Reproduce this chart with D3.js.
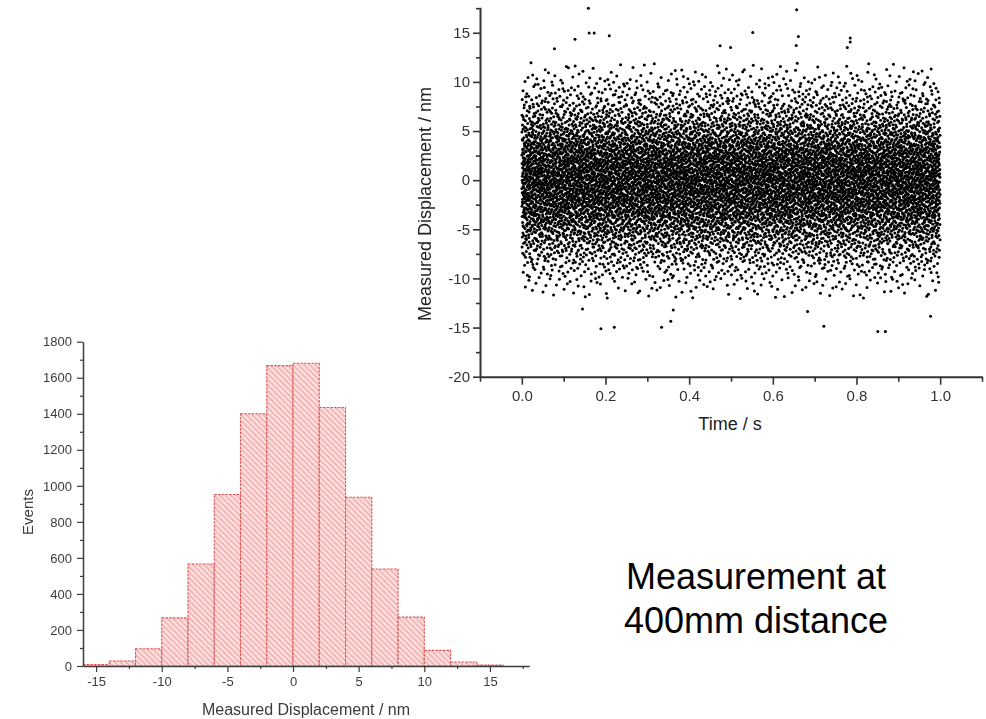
<!DOCTYPE html>
<html><head><meta charset="utf-8">
<script src="https://cdn.jsdelivr.net/npm/d3@7"></script>
<style>
body{margin:0;background:#fff}
svg{display:block}
text{font-family:"Liberation Sans",Arial,Helvetica,sans-serif}
</style>
</head><body>
<svg id="chart" width="986" height="719"></svg>
<script>
// ---------------- DATA ----------------
// Histogram of measured displacement (nm): bins of width 2 nm starting at these edges
const histBinStarts = [-16,-14,-12,-10,-8,-6,-4,-2,0,2,4,6,8,10,12,14];
const histBinWidth = 2;
const histCounts   = [8,28,96,267,566,952,1400,1667,1680,1435,937,538,271,87,22,5];
const histXTicks = [-15,-10,-5,0,5,10,15];
const histYTicks = [0,200,400,600,800,1000,1200,1400,1600,1800];

// Time trace: isolated extreme points [time s, displacement nm]
const outlierTimes = [0.159,0.161,0.173,0.209,0.127,0.078,0.657,0.552,0.661,0.656,0.785,0.785,0.778,0.474,0.499,
                      0.189,0.221,0.334,0.356,0.145,0.362,0.851,0.869,0.722,0.977,0.683];
const outlierValues= [17.5,14.97,14.97,14.7,14.35,13.37,17.35,15.03,14.62,13.7,14.46,14.05,13.5,13.67,13.5,
                      -15.13,-14.97,-14.97,-14.35,-13.1,-13.2,-15.4,-15.4,-14.87,-13.85,-13.37];
// The dense cloud of the trace has the distribution of the histogram above (same measurements, |y|<12 nm)
const scatterXTicks = [0.0,0.2,0.4,0.6,0.8,1.0];
const scatterYTicks = [-20,-15,-10,-5,0,5,10,15];
const annotationLines = ["Measurement at","400mm distance"];

// ---------------- CHART ----------------
const svg = d3.select("#chart");
const defs = svg.append("defs");
const pat = defs.append("pattern").attr("id","hatch").attr("patternUnits","userSpaceOnUse")
  .attr("width",4).attr("height",4).attr("patternTransform","rotate(-45)");
pat.append("rect").attr("width",4).attr("height",4).attr("fill","#fde2e2");
pat.append("line").attr("x1",1).attr("x2",1).attr("y1",0).attr("y2",4)
  .attr("stroke","#ee9a9a").attr("stroke-width",1.2);
defs.append("filter").attr("id","soft").append("feGaussianBlur").attr("stdDeviation",0.45);

const intFmt = d => String(d);

// ---- Histogram ----
const hx = d3.scaleLinear().domain([-16,18]).range([83,529.3]);
const hy = d3.scaleLinear().domain([0,1800]).range([666,341.7]);
const hg = svg.append("g").attr("filter","url(#soft)");

hg.selectAll("rect.bar").data(histCounts).join("rect").attr("class","bar")
  .attr("x",(d,i)=>hx(histBinStarts[i]))
  .attr("width",(d,i)=>hx(histBinStarts[i]+histBinWidth)-hx(histBinStarts[i]))
  .attr("y",d=>hy(d)).attr("height",d=>hy(0)-hy(d))
  .attr("fill","url(#hatch)").attr("stroke","#de5252").attr("stroke-width",1.1)
  .attr("stroke-dasharray","2.5,1.2");

const hMinorX = d3.range(-15,18.1,2.5).filter(v=>!histXTicks.includes(v));
const hMinorY = d3.range(100,1800,200);
function styleAxis(g,col,w){
  g.select(".domain").attr("stroke",col).attr("stroke-width",w);
  g.selectAll(".tick line").attr("stroke",col).attr("stroke-width",w*0.8);
  g.selectAll("text").attr("fill",col);
}
const hxAxis = hg.append("g").attr("transform",`translate(0,${hy(0)})`)
  .call(d3.axisBottom(hx).tickValues(histXTicks).tickFormat(intFmt).tickSize(6).tickSizeOuter(0).tickPadding(5));
hxAxis.selectAll("text").style("font-size","13px");
styleAxis(hxAxis,"#3c3c3c",1.5);
const hxMinor = hg.append("g").attr("transform",`translate(0,${hy(0)})`)
  .call(d3.axisBottom(hx).tickValues(hMinorX).tickSize(3).tickFormat(""));
hxMinor.select(".domain").remove();
hxMinor.selectAll(".tick line").attr("stroke","#3c3c3c").attr("stroke-width",1.2);

const hyAxis = hg.append("g").attr("transform",`translate(${hx(-16)},0)`)
  .call(d3.axisLeft(hy).tickValues(histYTicks).tickFormat(intFmt).tickSize(6).tickSizeOuter(0).tickPadding(5));
hyAxis.selectAll("text").style("font-size","13px");
styleAxis(hyAxis,"#3c3c3c",1.5);
const hyMinor = hg.append("g").attr("transform",`translate(${hx(-16)},0)`)
  .call(d3.axisLeft(hy).tickValues(hMinorY).tickSize(3).tickFormat(""));
hyMinor.select(".domain").remove();
hyMinor.selectAll(".tick line").attr("stroke","#3c3c3c").attr("stroke-width",1.2);

hg.append("text").attr("transform","translate(33,512) rotate(-90)").attr("text-anchor","middle")
  .style("font-size","15px").attr("fill","#3a3a3a").text("Events");
hg.append("text").attr("x",306).attr("y",715).attr("text-anchor","middle")
  .style("font-size","16px").attr("fill","#3a3a3a").text("Measured Displacement / nm");

// ---- Time trace scatter ----
const sx = d3.scaleLinear().domain([-0.1,1.1]).range([480,982]);
const sy = d3.scaleLinear().domain([-20,17.6]).range([376.7,7.2]);

// cloud points: displacement distribution follows the histogram (linearly interpolated between
// bin centres) within |y|<12 nm, spread evenly over the 1 s record (deterministic Halton placement)
const centres = histBinStarts.map(s=>s+histBinWidth/2);
const dens = d3.scaleLinear().domain(centres).range(histCounts.map(c=>c/histBinWidth)).clamp(true);
const grid = d3.range(-12,12.0001,0.05);
const cdf = d3.cumsum(grid.map(g=>dens(g)));
const cdfMax = cdf[cdf.length-1];
const coreTotal = d3.sum(histCounts.filter((c,i)=>histBinStarts[i]>=-12 && histBinStarts[i]<12));
function halton(i,b){let f=1,r=0;while(i>0){f/=b;r+=f*(i%b);i=Math.floor(i/b);}return r;}
const cloud = d3.range(coreTotal).map(j=>{
  const u = halton(j+1,2), v = halton(j+1,3)*cdfMax;
  const k = Math.min(d3.bisectLeft(cdf,v), grid.length-1);
  const prev = k>0?cdf[k-1]:0;
  const frac = (v-prev)/Math.max(cdf[k]-prev,1e-9);
  return [u, grid[k]-0.05+frac*0.05];
});
const points = cloud.concat(outlierTimes.map((t,i)=>[t,outlierValues[i]]));

const sg = svg.append("g");
sg.selectAll("circle").data(points).join("circle")
  .attr("cx",d=>sx(d[0])).attr("cy",d=>sy(d[1])).attr("r",1.5).attr("fill","#000");

const sMinorX = d3.range(-0.1,1.11,0.2).map(v=>+v.toFixed(2));
const sMinorY = d3.range(-17.5,17.6,5);
const sxAxis = sg.append("g").attr("transform",`translate(0,${sy(-20)})`)
  .call(d3.axisBottom(sx).tickValues(scatterXTicks).tickSize(8).tickSizeOuter(0).tickPadding(6)
    .tickFormat(d3.format(".1f")));
sxAxis.selectAll("text").style("font-size","15px");
styleAxis(sxAxis,"#333",2);
const sxMinor = sg.append("g").attr("transform",`translate(0,${sy(-20)})`)
  .call(d3.axisBottom(sx).tickValues(sMinorX).tickSize(5).tickFormat(""));
sxMinor.select(".domain").remove();
sxMinor.selectAll(".tick line").attr("stroke","#333").attr("stroke-width",1.6);

const syAxis = sg.append("g").attr("transform",`translate(${sx(-0.1)},0)`)
  .call(d3.axisLeft(sy).tickValues(scatterYTicks).tickFormat(intFmt).tickSize(7).tickSizeOuter(0).tickPadding(3));
syAxis.selectAll("text").style("font-size","15px");
styleAxis(syAxis,"#333",2);
const syMinor = sg.append("g").attr("transform",`translate(${sx(-0.1)},0)`)
  .call(d3.axisLeft(sy).tickValues(sMinorY).tickSize(4).tickFormat(""));
syMinor.select(".domain").remove();
syMinor.selectAll(".tick line").attr("stroke","#333").attr("stroke-width",1.6);

sg.append("text").attr("x",730).attr("y",430).attr("text-anchor","middle")
  .style("font-size","18px").attr("fill","#222").text("Time / s");
sg.append("text").attr("transform","translate(431,204) rotate(-90)").attr("text-anchor","middle")
  .style("font-size","18px").attr("fill","#222").text("Measured Displacement / nm");

// ---- Annotation ----
svg.append("g").selectAll("text").data(annotationLines).join("text")
  .attr("x",756).attr("y",(d,i)=>589+i*44).attr("text-anchor","middle")
  .style("font-size","36px").attr("fill","#000").text(d=>d);
</script>
</body></html>
